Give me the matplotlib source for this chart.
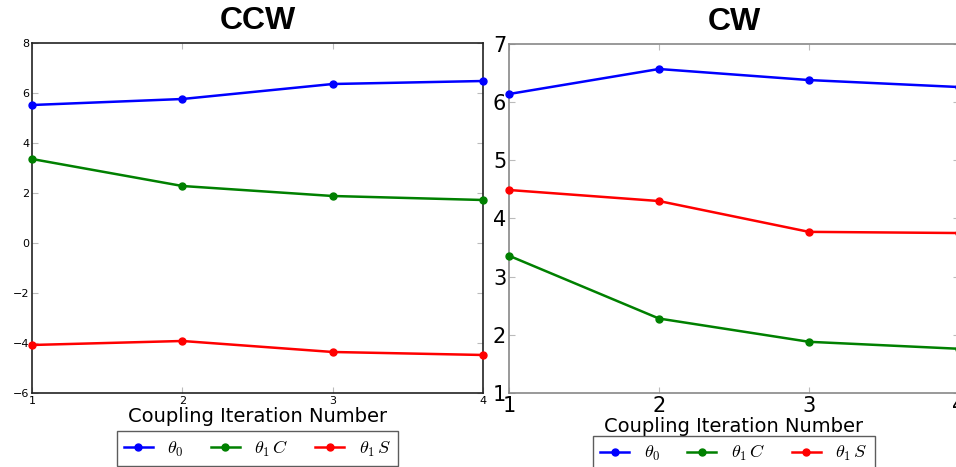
import matplotlib
matplotlib.use("Agg")
import matplotlib.pyplot as plt

plt.rcParams["mathtext.fontset"] = "cm"

iterations = [1, 2, 3, 4]

ccw_theta0 = [5.52, 5.76, 6.36, 6.48]
ccw_theta1c = [3.36, 2.28, 1.88, 1.72]
ccw_theta1s = [-4.08, -3.92, -4.36, -4.48]

cw_theta0 = [6.14, 6.57, 6.38, 6.26]
cw_theta1c = [3.36, 2.28, 1.88, 1.76]
cw_theta1s = [4.49, 4.30, 3.77, 3.75]

labels = [r"$\theta_0$", r"$\theta_1\,C$", r"$\theta_1\,S$"]
colors = ["blue", "green", "red"]

fig = plt.figure(figsize=(9.56, 4.67), dpi=100)
ax1 = fig.add_axes([0.0335, 0.1585, 0.4717, 0.7494])
ax2 = fig.add_axes([0.5324, 0.1585, 0.4707, 0.7473])


def draw_panel(ax, series, title, ylim, tick_size, frame_color, leg_y):
    for vals, c, lab in zip(series, colors, labels):
        ax.plot(iterations, vals, color=c, marker="o", markersize=5,
                linewidth=1.8, label=lab, clip_on=False, zorder=3)
    ax.set_xlim(1, 4)
    ax.set_ylim(*ylim)
    ax.set_xticks(iterations)
    ax.tick_params(direction="in", top=True, right=True, labelsize=tick_size,
                   color="#bbbbbb", length=4, pad=2)
    for sp in ax.spines.values():
        sp.set_color(frame_color)
        sp.set_linewidth(1.2)
    ax.set_xlabel("Coupling Iteration Number", fontsize=14, labelpad=1)
    ax.set_title(title, fontsize=23, fontweight="heavy",
                 family="Liberation Sans", y=1.015)
    leg = ax.legend(loc="upper center", bbox_to_anchor=(0.5, leg_y), ncol=3,
                    fontsize=13, frameon=True, fancybox=False,
                    handlelength=1.6, columnspacing=1.5, borderpad=0.4,
                    handletextpad=0.8, borderaxespad=0)
    leg.get_frame().set_edgecolor("#333333")
    leg.get_frame().set_linewidth(1.0)


draw_panel(ax1, [ccw_theta0, ccw_theta1c, ccw_theta1s], "CCW", (-6, 8),
           8, "#222222", -0.11)
draw_panel(ax2, [cw_theta0, cw_theta1c, cw_theta1s], "CW", (1, 7),
           15, "#888888", -0.123)

fig.savefig("out.png", dpi=100)
